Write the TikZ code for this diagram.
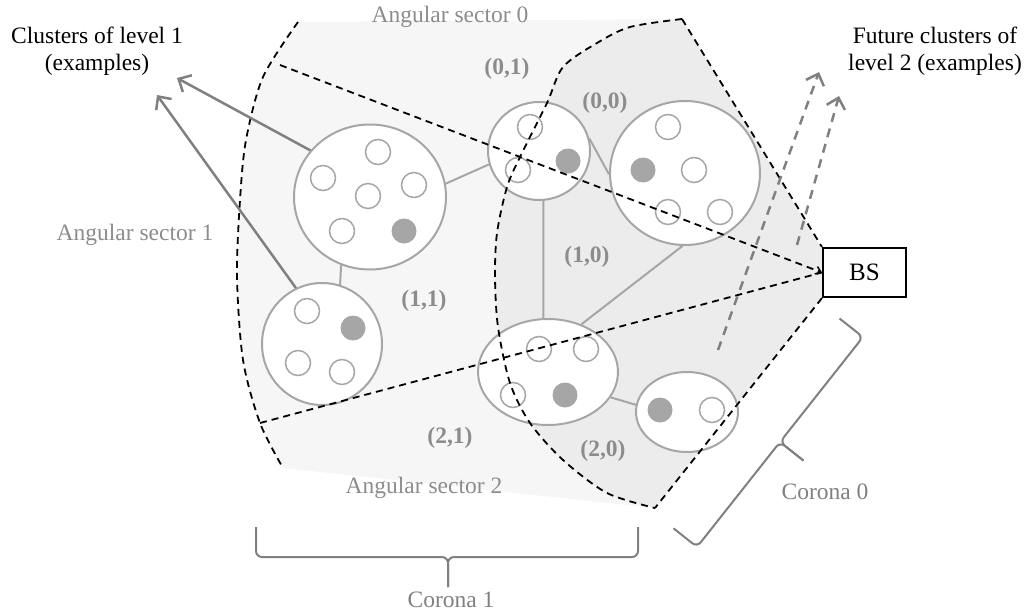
\documentclass[tikz,border=0pt]{standalone}
\usepackage{fontspec}
\setmainfont{Liberation Serif}
\usetikzlibrary{shapes.geometric,arrows.meta}
\definecolor{outerfill}{HTML}{F6F6F6}
\definecolor{innerfill}{HTML}{ECECEC}
\definecolor{cl}{HTML}{A6A6A6}
\definecolor{arr}{HTML}{808080}
\definecolor{lab}{HTML}{8C8C8C}
\begin{document}
\begin{tikzpicture}[x=1pt,y=-1pt,font=\fontsize{23.5}{27}\selectfont,
  cluster/.style={ellipse,draw=cl,line width=2pt,fill=white,inner sep=0pt},
  dev/.style={circle,draw=cl,line width=1.5pt,fill=white,minimum size=25pt,inner sep=0pt},
  head/.style={circle,fill=cl,minimum size=25pt,inner sep=0pt},
  link/.style={draw=cl,line width=2pt},
  bound/.style={line width=1.8pt,dash pattern=on 7pt off 5pt},
  lvlarrow/.style={draw=arr,line width=2.5pt,-{Straight Barb[length=10pt,width=19pt,line width=2.5pt]}},
  futarrow/.style={draw=arr,line width=2.5pt,dash pattern=on 9pt off 7pt,-{Straight Barb[length=10pt,width=19pt,line width=2.5pt]}},
  bracestyle/.style={draw=arr,line width=2pt,rounded corners=6pt},
  sectorlab/.style={text=lab,anchor=base,inner sep=0pt},
  idlab/.style={text=lab,anchor=base,inner sep=0pt,font=\fontsize{23.5}{27}\selectfont\bfseries},
  blacklab/.style={align=center,anchor=base,inner sep=0pt}]
\useasboundingbox (0,0) rectangle (1027,613);

% regions
\fill[outerfill] plot[smooth] coordinates {(298,22) (263,77) (246,140) (240,200) (237,277) (243,360) (260,423) (283,468)} -- (655,508) -- (682,19) -- cycle;
\fill[innerfill] plot[smooth] coordinates {(682,19) (630,27) (597,43) (563,67) (547,103) (520,157) (507,187) (497,233) (495,277) (498,327) (510,383) (530,423) (563,460) (607,493) (655,508)} -- (822,297) -- (822,249) -- cycle;

% clusters
\node[cluster,minimum width=152pt,minimum height=145pt] (BL) at (370,197) {};
\node[cluster,minimum width=102pt,minimum height=98pt] (S01) at (539,151) {};
\node[cluster,minimum width=150pt,minimum height=144pt] (BR) at (685,173) {};
\node[cluster,minimum width=120pt,minimum height=122pt] (BLo) at (322,344) {};
\node[cluster,minimum width=140pt,minimum height=106pt] (MB) at (548,372) {};
\node[cluster,minimum width=102pt,minimum height=80pt] (SR) at (687,412) {};

% links between clusters
\draw[link] (BL.10) -- (S01.195);
\draw[link] (S01.14) -- (BR.181);
\draw[link] (S01.275) -- (MB.95);
\draw[link] (BR.268) -- (MB.55);
\draw[link] (BL.247) -- (BLo.73);
\draw[link] (MB.338) -- (SR.172);

% devices
\node[dev] (b1) at (378,152) {};
\node[dev] (b2) at (323,178) {};
\node[dev] (b3) at (414,185) {};
\node[dev] (b4) at (368,196) {};
\node[dev] (b5) at (342,231) {};
\node[head] (b6) at (404,231) {};
\node[dev] (s1) at (530,127) {};
\node[dev] (s2) at (518,170) {};
\node[head] (s3) at (568,161) {};
\node[dev] (r1) at (668,127) {};
\node[head] (r2) at (643,170) {};
\node[dev] (r3) at (694,170) {};
\node[dev] (r4) at (668,212) {};
\node[dev] (r5) at (720,212) {};
\node[dev] (o1) at (307,311) {};
\node[head] (o2) at (353,328) {};
\node[dev] (o3) at (298,363) {};
\node[dev] (o4) at (342,372) {};
\node[dev] (m1) at (539,349) {};
\node[dev] (m2) at (586,349) {};
\node[dev] (m3) at (513,395) {};
\node[head] (m4) at (565,395) {};
\node[head] (q1) at (660,410) {};
\node[dev] (q2) at (712,410) {};

% base station
\node[draw,line width=2.2pt,fill=white,minimum width=83pt,minimum height=49pt,inner sep=0pt,font=\fontsize{25}{28}\selectfont] (BS) at (864.5,272.5) {BS};

% boundaries
\coordinate (top) at (682,19);
\coordinate (bot) at (655,508);
\coordinate (u1) at (280,65);
\coordinate (l1) at (260,423);
\draw[bound] plot[smooth] coordinates {(298,22) (263,77) (246,140) (240,200) (237,277) (243,360) (260,423) (283,468)};
\draw[bound] plot[smooth] coordinates {(682,19) (630,27) (597,43) (563,67) (547,103) (520,157) (507,187) (497,233) (495,277) (498,327) (510,383) (530,423) (563,460) (607,493) (655,508)};
\draw[bound] (top) -- (BS.north west);
\draw[bound] (BS.south west) -- (bot);
\draw[bound,-{Straight Barb[length=5pt,width=8pt,line width=1.5pt]}] (u1) -- (BS.west);
\draw[bound] (l1) -- (BS.west);

% future cluster arrows
\coordinate (fa1) at (718,350);
\coordinate (fa1t) at (819,72);
\coordinate (fa2) at (797,245);
\coordinate (fa2t) at (839,96);
\draw[futarrow] (fa1) -- (fa1t);
\draw[futarrow] (fa2) -- (fa2t);

% level 1 arrows
\coordinate (la1) at (177,78);
\coordinate (la2) at (157,95);
\draw[lvlarrow] (BL.142) -- (la1);
\draw[lvlarrow] (BLo.115) -- (la2);

% braces
\draw[bracestyle] (256,527) -- (256,557) -- (448,557) -- (448,587);
\draw[bracestyle] (638,527) -- (638,557) -- (448,557) -- (448,587);
\draw[bracestyle] (839.5,318.5) -- (863,337) -- (780,442) -- (803.5,460.6);
\draw[bracestyle] (673.5,528.3) -- (697,547) -- (780,442) -- (803.5,460.6);

% labels
\node[blacklab] (lvl1) at (97,70) {Clusters of level 1\\(examples)};
\node[blacklab] (lvl2) at (935,70) {Future clusters of\\level 2 (examples)};
\node[sectorlab] (as0) at (450,22) {Angular sector 0};
\node[sectorlab] (as1) at (135,240) {Angular sector 1};
\node[sectorlab] (as2) at (424,493) {Angular sector 2};
\node[sectorlab,text=arr] (c0) at (825,499) {Corona 0};
\node[sectorlab,text=arr] (c1) at (451,607) {Corona 1};
\node[idlab] (i01) at (507,74) {(0,1)};
\node[idlab] (i00) at (605,108) {(0,0)};
\node[idlab] (i10) at (587,262) {(1,0)};
\node[idlab] (i11) at (424,306) {(1,1)};
\node[idlab] (i21) at (450,443) {(2,1)};
\node[idlab] (i20) at (603,456) {(2,0)};
\end{tikzpicture}
\end{document}
